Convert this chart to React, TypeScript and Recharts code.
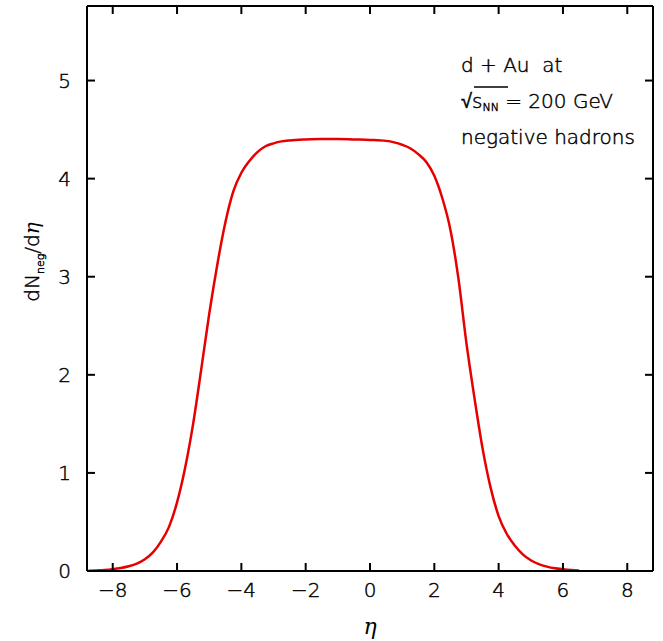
import React from 'react';
import { LineChart, Line, XAxis, YAxis } from 'recharts';

const etaValues = [
  -8.75, -8.5, -8.25, -8.0, -7.75, -7.5, -7.25, -7.0, -6.75, -6.5, -6.25, -6.0,
  -5.75, -5.5, -5.25, -5.0, -4.75, -4.5, -4.25, -4.0, -3.75, -3.5, -3.25, -3.0,
  -2.75, -2.5, -2.0, -1.5, -1.0, -0.5, 0.0, 0.5, 0.75, 1.0, 1.25, 1.5, 1.75, 2.0,
  2.25, 2.5, 2.75, 3.0, 3.25, 3.5, 3.75, 4.0, 4.25, 4.5, 4.75, 5.0, 5.25, 5.5,
  5.75, 6.0, 6.25, 6.5,
];
const dNdEta = [
  0.003, 0.006, 0.01, 0.018, 0.03, 0.048, 0.075, 0.12, 0.19, 0.3, 0.45, 0.7,
  1.05, 1.5, 2.05, 2.62, 3.12, 3.55, 3.87, 4.06, 4.18, 4.27, 4.33, 4.36,
  4.38, 4.39, 4.4, 4.405, 4.405, 4.4, 4.395, 4.385, 4.37, 4.345, 4.31, 4.25, 4.17, 4.03,
  3.8, 3.48, 2.98, 2.32, 1.76, 1.25, 0.85, 0.56, 0.38, 0.26, 0.17, 0.11, 0.07, 0.045,
  0.028, 0.018, 0.01, 0.005,
];
const xTicks = [-8, -6, -4, -2, 0, 2, 4, 6, 8];
const yTicks = [0, 1, 2, 3, 4, 5];
const xDomain = [-8.8, 8.8];
const yDomain = [0, 5.76];

const data = etaValues.map((eta, i) => ({ eta, dn: dNdEta[i] }));

const FONT = '"DejaVu Sans", sans-serif';
const FW = 200;
const TICK_LEN = 8;
const FS = 20;
const txt = { fontFamily: FONT, fontWeight: FW, fill: '#000', stroke: '#000', strokeWidth: 0.45 } as const;

const fmt = (v: number) => (v < 0 ? '\u2212' + Math.abs(v) : String(v));

const BottomTick = (props: any) => {
  const { x, y, payload } = props;
  return (
    <g>
      <line x1={x} y1={y} x2={x} y2={y - TICK_LEN} stroke="#000" strokeWidth={2} />
      <text x={x} y={y + 19} dy="0.36em" textAnchor="middle" fontSize={FS} {...txt}>
        {fmt(payload.value)}
      </text>
    </g>
  );
};
const TopTick = (props: any) => {
  const { x, y } = props;
  return <line x1={x} y1={y} x2={x} y2={y + TICK_LEN} stroke="#000" strokeWidth={2} />;
};
const LeftTick = (props: any) => {
  const { x, y, payload } = props;
  return (
    <g>
      <line x1={x} y1={y} x2={x + TICK_LEN} y2={y} stroke="#000" strokeWidth={2} />
      <text x={x - 16} y={y} dy="0.36em" textAnchor="end" fontSize={FS} {...txt}>
        {fmt(payload.value)}
      </text>
    </g>
  );
};
const RightTick = (props: any) => {
  const { x, y } = props;
  return <line x1={x} y1={y} x2={x - TICK_LEN} y2={y} stroke="#000" strokeWidth={2} />;
};

export default function App() {
  const axisLine = { stroke: '#000', strokeWidth: 2 };
  return (
    <div style={{ position: 'absolute', left: 0, top: 0, width: 663, height: 641, background: '#fff' }}>
      <LineChart width={663} height={641} data={data} margin={{ top: 0, right: 0, bottom: 0, left: 0 }}>
        <XAxis
          xAxisId="b"
          dataKey="eta"
          type="number"
          domain={xDomain}
          ticks={xTicks}
          allowDataOverflow
          orientation="bottom"
          height={70}
          axisLine={axisLine}
          tickLine={false}
          tickSize={0}
          tickMargin={0}
          tick={<BottomTick />}
          interval={0}
        />
        <XAxis
          xAxisId="t"
          dataKey="eta"
          type="number"
          domain={xDomain}
          ticks={xTicks}
          allowDataOverflow
          orientation="top"
          height={6}
          axisLine={axisLine}
          tickLine={false}
          tickSize={0}
          tickMargin={0}
          tick={<TopTick />}
          interval={0}
        />
        <YAxis
          yAxisId="l"
          type="number"
          domain={yDomain}
          ticks={yTicks}
          allowDataOverflow
          orientation="left"
          width={87}
          axisLine={axisLine}
          tickLine={false}
          tickSize={0}
          tickMargin={0}
          tick={<LeftTick />}
          interval={0}
        />
        <YAxis
          yAxisId="r"
          type="number"
          domain={yDomain}
          ticks={yTicks}
          allowDataOverflow
          orientation="right"
          width={10}
          axisLine={axisLine}
          tickLine={false}
          tickSize={0}
          tickMargin={0}
          tick={<RightTick />}
          interval={0}
        />
        <Line
          xAxisId="b"
          yAxisId="l"
          type="monotone"
          dataKey="dn"
          stroke="#e60000"
          strokeWidth={2.5}
          dot={false}
          isAnimationActive={false}
        />
      </LineChart>
      <svg width={663} height={641} style={{ position: 'absolute', left: 0, top: 0, pointerEvents: 'none' }}>
        <text transform="rotate(-90, 32, 262)" x={32} y={262} dy="0.36em" textAnchor="middle" fontSize={FS} {...txt}>
          dN
          <tspan fontSize={11} dy={5}>neg</tspan>
          <tspan dy={-5}>/d</tspan>
          <tspan fontFamily='"DejaVu Serif", serif' fontStyle="italic" fontWeight={400} strokeWidth={0}>η</tspan>
        </text>
        <text x={370} y={626} dy="0.36em" textAnchor="middle" fontSize={22} fontFamily='"DejaVu Serif", serif' fontStyle="italic" fill="#000">
          η
        </text>
        <text x={461} y={72} fontSize={FS} {...txt} style={{ whiteSpace: 'pre' }}>
          {'d + Au  at'}
        </text>
        <text x={461} y={108} fontSize={FS} {...txt}>
          √
          <tspan>s</tspan>
          <tspan fontSize={11} dy={3}>NN</tspan>
          <tspan dy={-3}> = 200 GeV</tspan>
        </text>
        <line x1={474} y1={87} x2={508} y2={87} stroke="#000" strokeWidth={1.3} />
        <text x={461} y={144} fontSize={FS} {...txt}>
          negative hadrons
        </text>
      </svg>
    </div>
  );
}
